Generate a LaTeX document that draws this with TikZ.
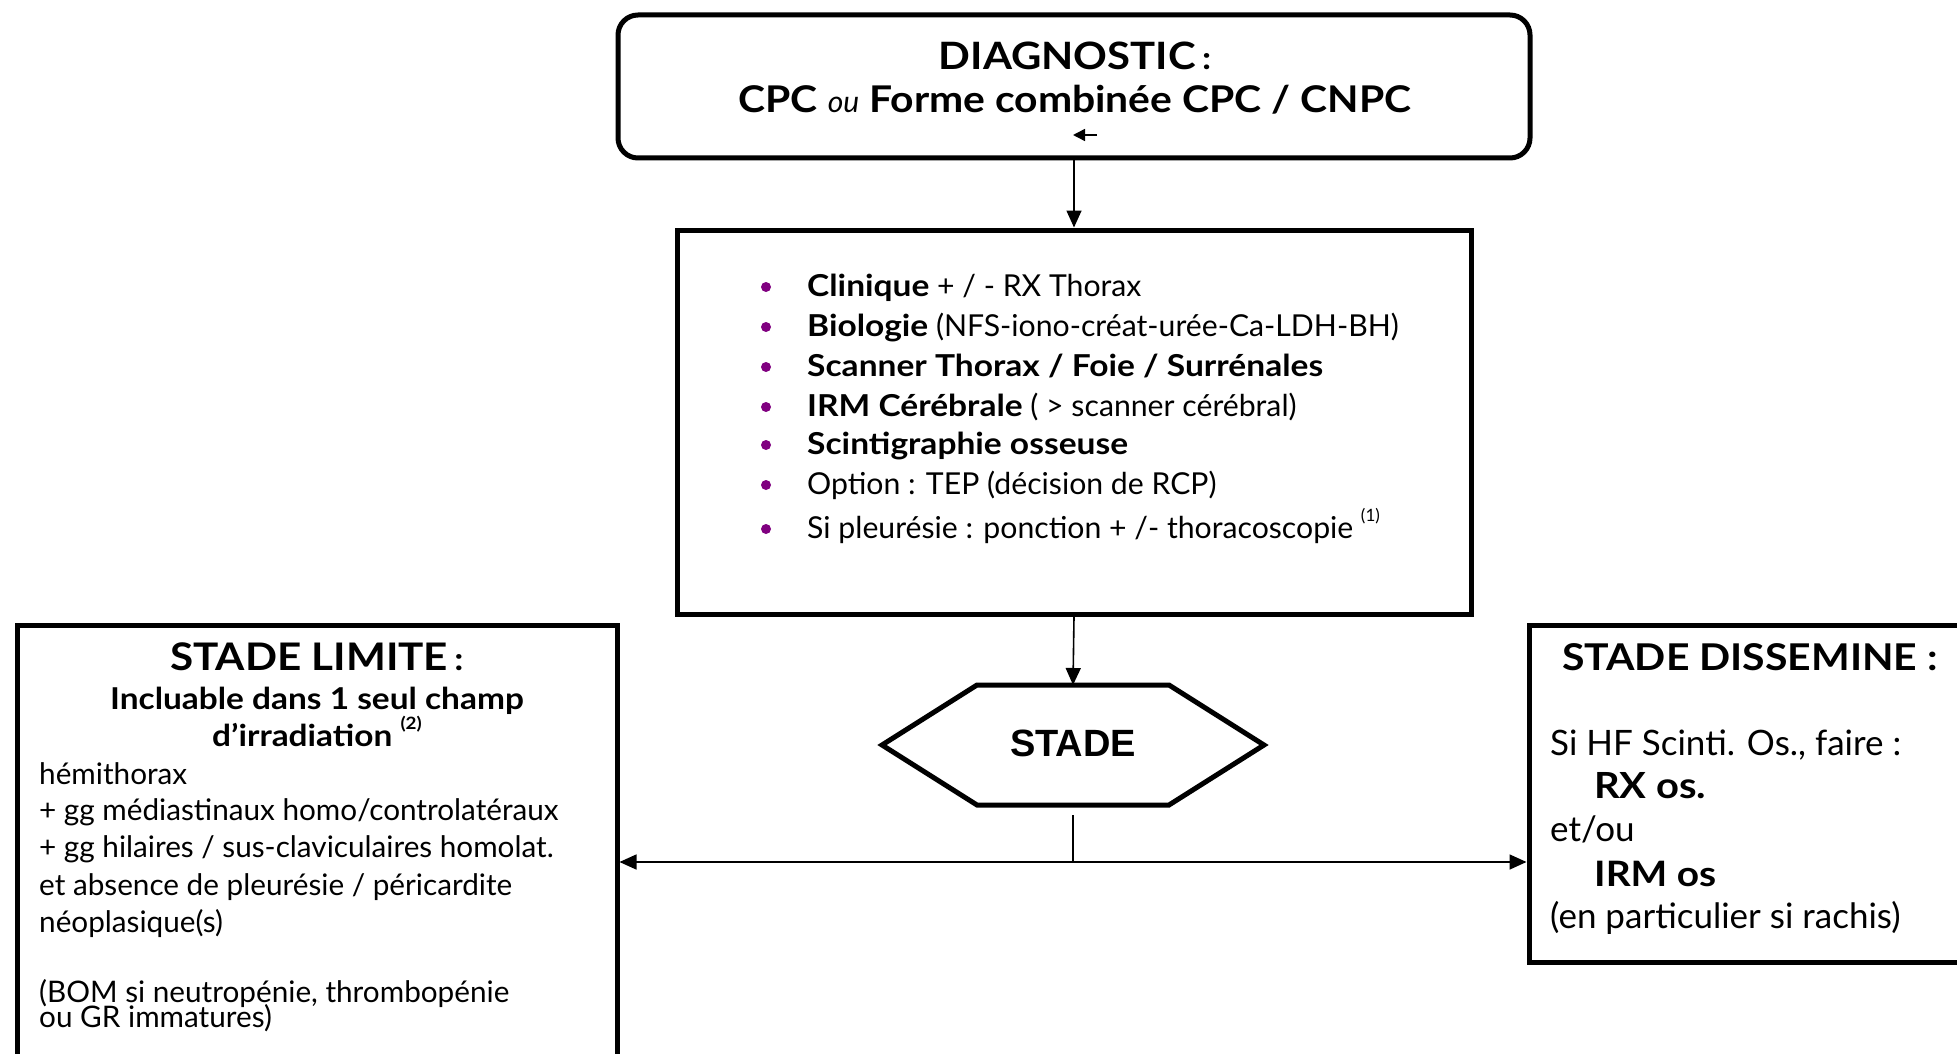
\documentclass[tikz,border=0pt]{standalone}
\usepackage{fontspec}
\setmainfont{Lato}[BoldFeatures={FakeStretch=1.11}]
\newfontfamily\arialfont{Liberation Sans}
\usetikzlibrary{arrows.meta}
\definecolor{bulletpurple}{RGB}{128,0,128}

\newcommand{\supnote}[1]{\raisebox{0.55em}{\fontsize{17}{17}\selectfont #1}}
\newcommand{\fsz}[1]{\fontsize{#1}{#1}\selectfont}

\begin{document}
\begin{tikzpicture}[x=1pt,y=-1pt,
  frame/.style={draw=black, line width=5pt, inner sep=0pt},
  tip/.style={-{Triangle[length=17pt,width=15pt]}},
  conn/.style={draw=black, line width=1.6pt, tip},
  link/.style={draw=black, line width=1.6pt},
  body/.style={inner sep=0pt, anchor=base west, font=\fsz{30.2}},
  bodyL/.style={inner sep=0pt, anchor=base west, font=\fsz{29.7}},
  bodyR/.style={inner sep=0pt, anchor=base west, font=\fsz{35}},
  head/.style={inner sep=0pt, anchor=base, font=\bfseries\fsz{38}},
  dot/.style={circle, fill=bulletpurple, inner sep=0pt, minimum size=10pt},
]
\useasboundingbox (0,0) rectangle (1957,1054);
\clip (0,0) rectangle (1957,1054);

% --- boxes ---------------------------------------------------------
\node[frame, rounded corners=20pt, minimum width=912pt, minimum height=143pt] (diag) at (1074,86.5) {};
\node[frame, minimum width=794pt, minimum height=384pt] (bilan) at (1074,422) {};
\node[frame, minimum width=600pt, minimum height=450pt] (limite) at (317,850) {};
\node[frame, minimum width=441pt, minimum height=337pt] (dissem) at (1749.5,793.5) {};

% --- hexagon -------------------------------------------------------
\draw[line width=5pt, line join=miter] (882,745) -- (977,685) -- (1169,685) -- (1264,745) -- (1169,805) -- (977,805) -- cycle;
\node[inner sep=0pt, font=\arialfont\bfseries\fsz{38}] (stade) at (1073,743) {STADE};
\coordinate (hextop) at (1073,685);
\coordinate (hexbot) at (1073,815);
\coordinate (split) at (1073,862);

% --- diagnostic ----------------------------------------------------
\node[inner sep=0pt, anchor=base, font=\bfseries\fsz{37.7}] (diag1) at (1075,70) {DIAGNOSTIC\,{\fsz{32}:}};
\node[inner sep=0pt, anchor=base, font=\bfseries\fsz{36.8}] (diag2) at (1075,113)
  {CPC {\mdseries\itshape\fsz{30}ou} Forme combinée CPC / CNPC};
\coordinate (mark0) at (1097,135);
\coordinate (mark1) at (1073,135);
\draw[line width=1.5pt, -{Triangle[length=12pt,width=12pt]}] (mark0) -- (mark1);

% --- work-up list --------------------------------------------------
\foreach \y [count=\i] in {287,327,367,407,445,485,529} {
  \node[dot] (b\i) at (766,\y) {};
}
\node[body] (l1) at (807,296) {\textbf{Clinique} + / - RX Thorax};
\node[body] (l2) at (807,336) {\textbf{Biologie} (NFS-iono-créat-urée-Ca-LDH-BH)};
\node[body] (l3) at (807,376) {\textbf{Scanner Thorax / Foie / Surrénales}};
\node[body] (l4) at (807,416) {\textbf{IRM Cérébrale} ( > scanner cérébral)};
\node[body] (l5) at (807,454) {\textbf{Scintigraphie osseuse}};
\node[body] (l6) at (807,494) {Option : TEP (décision de RCP)};
\node[body] (l7) at (807,538) {Si pleurésie : ponction + /- thoracoscopie \supnote{(1)}};

% --- limited stage -------------------------------------------------
\node[head] (lim0) at (317,670) {STADE LIMITE\,{\fsz{32}:}};
\node[head, font=\bfseries\fsz{30.1}] (lim1) at (317,709) {Incluable dans 1 seul champ};
\node[head, font=\bfseries\fsz{30.1}] (lim2) at (317,746) {d’irradiation \supnote{(2)}};
\node[bodyL] (lim3) at (39,784) {hémithorax};
\node[bodyL] (lim4) at (39,820) {+ gg médiastinaux homo/controlatéraux};
\node[bodyL] (lim5) at (39,857) {+ gg hilaires / sus-claviculaires homolat.};
\node[bodyL] (lim6) at (39,895) {et absence de pleurésie / péricardite};
\node[bodyL] (lim7) at (39,932) {néoplasique(s)};
% tightly set two-line remark (base anchor = last line)
\node[bodyL, align=left, font={\fontsize{29.7}{25}\selectfont\lineskiplimit=-60pt}] (lim8) at (39,1027)
  {(BOM si neutropénie, thrombopénie\\ou GR immatures)};

% --- disseminated stage --------------------------------------------
\node[head, anchor=base west, font=\bfseries\fsz{36.9}] (dis0) at (1562,670) {STADE DISSEMINE :};
\node[bodyR] (dis1) at (1550,755) {Si HF Scinti. Os., faire :};
\node[bodyR, font=\bfseries\fsz{36}] (dis2) at (1594,798) {RX os.};
\node[bodyR] (dis3) at (1550,841) {et/ou};
\node[bodyR, font=\bfseries\fsz{35}] (dis4) at (1594,886) {IRM os};
\node[bodyR] (dis5) at (1550,928) {(en particulier si rachis)};

% --- connectors ----------------------------------------------------
\draw[conn] (diag.south) -- (bilan.north);
\draw[conn] (bilan.south) -- (hextop);
\draw[link] (hexbot) -- (split);
\draw[conn] (split) -- (limite.east |- split);
\draw[conn] (split) -- (dissem.west |- split);
\end{tikzpicture}
\end{document}
